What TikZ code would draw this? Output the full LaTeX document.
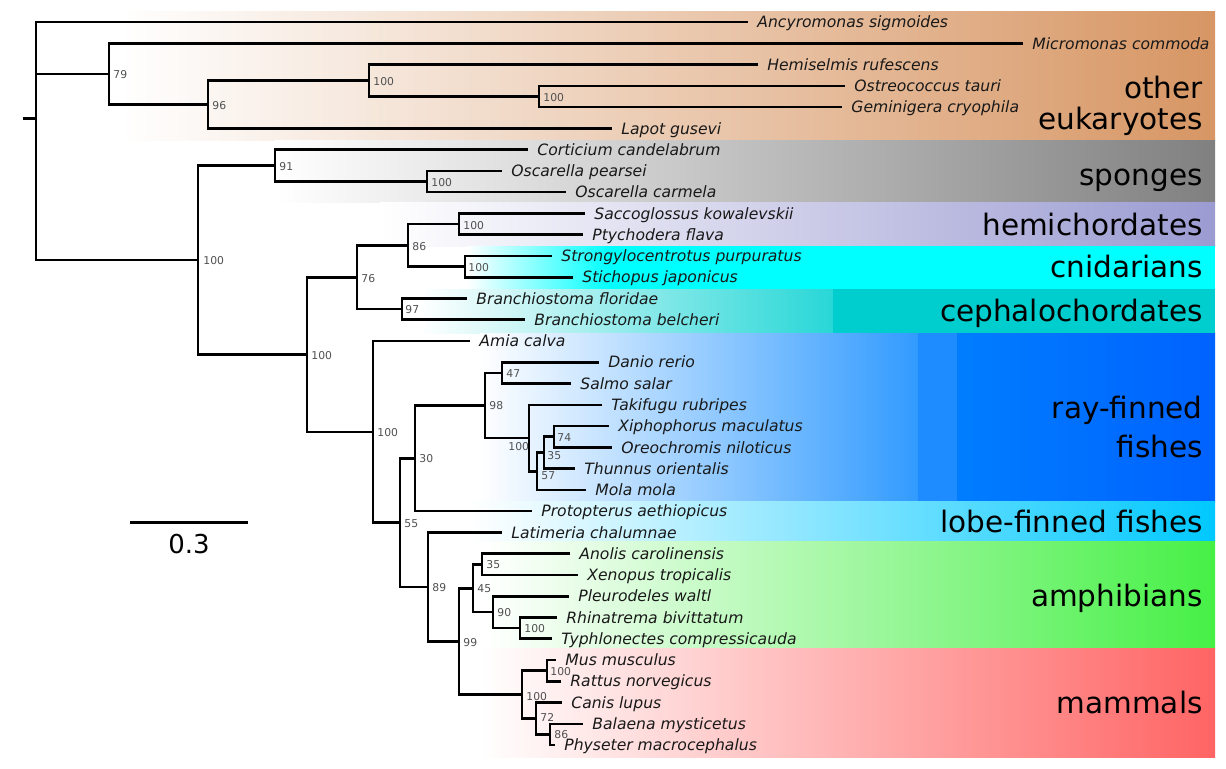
\documentclass[tikz,border=0pt]{standalone}
\usepackage{fontspec}
\setmainfont{DejaVu Sans}
\definecolor{eukc}{RGB}{215,150,100}
\definecolor{spoc}{RGB}{128,128,128}
\definecolor{hemc}{RGB}{155,155,210}
\definecolor{cnic}{RGB}{0,255,255}
\definecolor{cepa}{RGB}{40,215,215}
\definecolor{cepb}{RGB}{0,205,205}
\definecolor{raya}{RGB}{50,155,255}
\definecolor{rayb}{RGB}{30,140,255}
\definecolor{rayc}{RGB}{0,125,255}
\definecolor{rayd}{RGB}{0,98,255}
\definecolor{lobr}{RGB}{0,200,255}
\definecolor{ampc}{RGB}{70,240,70}
\definecolor{mamc}{RGB}{255,100,100}
\definecolor{bsgray}{RGB}{80,80,80}
\definecolor{leafc}{RGB}{25,25,25}
\begin{document}
\begin{tikzpicture}[x=0.5pt,y=-0.5pt]
\tikzset{
 br/.style={line width=1.3pt, line join=miter},
 leaf/.style={font=\fontsize{7.8}{9}\selectfont\itshape, anchor=west, inner xsep=4.5pt, inner ysep=0pt, text height=5.7pt, text depth=0pt, text=leafc},
 bs/.style={font=\fontsize{5.4}{6}\selectfont, text=bsgray, anchor=west, inner sep=0pt, text height=3.9pt, text depth=0pt},
 grp/.style={font=\fontsize{14.75}{16}\selectfont, anchor=base east, inner sep=0pt},
}
\useasboundingbox (0,0) rectangle (1226,768);
% ---------- bands ----------
\shade[left color=white, right color=eukc] (120,11) rectangle (1215,140);
\shade[left color=white, right color=spoc] (275,140) rectangle (1215,202);
\shade[left color=white, right color=hemc] (380,202) rectangle (1215,246);
\shade[left color=white, right color=cnic] (467,246) rectangle (610,289);
\fill[cnic] (609,246) rectangle (1215,289);
\shade[left color=white, right color=cepa] (420,289) rectangle (833,333);
\fill[cepb] (833,289) rectangle (1215,333);
\shade[left color=white, right color=raya] (480,333) rectangle (918,501);
\fill[rayb] (918,333) rectangle (957,501);
\shade[left color=rayc, right color=rayd] (957,333) rectangle (1215,501);
\shade[left color=white, right color=lobr] (470,501) rectangle (1215,541);
\shade[left color=white, right color=ampc] (485,541) rectangle (1215,648);
\shade[left color=white, right color=mamc] (480,648) rectangle (1215,757);
% ---------- group labels ----------
\node[grp] (g1a) at (1203,98) {other};
\node[grp] (g1b) at (1203,129) {eukaryotes};
\node[grp] (g2) at (1203,185) {sponges};
\node[grp] (g3) at (1203,235) {hemichordates};
\node[grp] (g4) at (1203,277) {cnidarians};
\node[grp] (g5) at (1203,321) {cephalochordates};
\node[grp] (g6a) at (1203,418) {ray-finned};
\node[grp] (g6b) at (1203,457) {fishes};
\node[grp] (g7) at (1203,532) {lobe-finned fishes};
\node[grp] (g8) at (1203,606) {amphibians};
\node[grp] (g9) at (1203,713) {mammals};
% ---------- leaves ----------
\node[leaf] (l1) at (748,22) {Ancyromonas sigmoides};
\node[leaf] (l2) at (1023,43.3) {Micromonas commoda};
\node[leaf] (l3) at (758,64.5) {Hemiselmis rufescens};
\node[leaf] (l4) at (845,85.8) {Ostreococcus tauri};
\node[leaf] (l5) at (842,107.1) {Geminigera cryophila};
\node[leaf] (l6) at (612,128.3) {Lapot gusevi};
\node[leaf] (l7) at (528,149.6) {Corticium candelabrum};
\node[leaf] (l8) at (502,170.9) {Oscarella pearsei};
\node[leaf] (l9) at (566,192.1) {Oscarella carmela};
\node[leaf] (l10) at (585,213.4) {Saccoglossus kowalevskii};
\node[leaf] (l11) at (583,234.7) {Ptychodera flava};
\node[leaf] (l12) at (552,255.9) {Strongylocentrotus purpuratus};
\node[leaf] (l13) at (573,277.2) {Stichopus japonicus};
\node[leaf] (l14) at (467,298.5) {Branchiostoma floridae};
\node[leaf] (l15) at (525,319.7) {Branchiostoma belcheri};
\node[leaf] (l16) at (470,341) {Amia calva};
\node[leaf] (l17) at (599,362.2) {Danio rerio};
\node[leaf] (l18) at (571,383.5) {Salmo salar};
\node[leaf] (l19) at (602,404.8) {Takifugu rubripes};
\node[leaf] (l20) at (609,426.0) {Xiphophorus maculatus};
\node[leaf] (l21) at (612,447.3) {Oreochromis niloticus};
\node[leaf] (l22) at (575,468.6) {Thunnus orientalis};
\node[leaf] (l23) at (586,489.8) {Mola mola};
\node[leaf] (l24) at (532,511.1) {Protopterus aethiopicus};
\node[leaf] (l25) at (502,532.4) {Latimeria chalumnae};
\node[leaf] (l26) at (570,553.6) {Anolis carolinensis};
\node[leaf] (l27) at (578,574.9) {Xenopus tropicalis};
\node[leaf] (l28) at (569,596.2) {Pleurodeles waltl};
\node[leaf] (l29) at (557,617.4) {Rhinatrema bivittatum};
\node[leaf] (l30) at (552,638.7) {Typhlonectes compressicauda};
\node[leaf] (l31) at (556,660.0) {Mus musculus};
\node[leaf] (l32) at (561,681.2) {Rattus norvegicus};
\node[leaf] (l33) at (562,702.5) {Canis lupus};
\node[leaf] (l34) at (583,723.8) {Balaena mysticetus};
\node[leaf] (l35) at (555,745) {Physeter macrocephalus};
% ---------- internal nodes ----------
\coordinate (stub) at (23,118.6);
\coordinate (root) at (36,118.6);
\coordinate (n79) at (109,73.8);
\coordinate (n96) at (208,104.4);
\coordinate (nH) at (369,80.5);
\coordinate (nOG) at (539,96.4);
\coordinate (n100d) at (198,260.1);
\coordinate (n91) at (275,165.6);
\coordinate (nOsc) at (427,181.5);
\coordinate (n100c) at (307,354.5);
\coordinate (n76) at (357,277.2);
\coordinate (n86) at (408,245.3);
\coordinate (nHemi) at (459,224.0);
\coordinate (nCnid) at (465,266.6);
\coordinate (n97) at (402,309.1);
\coordinate (n100b) at (373,431.8);
\coordinate (n55) at (400,522.6);
\coordinate (n30) at (415,458.3);
\coordinate (n98) at (485,405.4);
\coordinate (n47) at (502,372.9);
\coordinate (n100f) at (529,438.0);
\coordinate (n57) at (537,471.2);
\coordinate (n35f) at (544,452.6);
\coordinate (n74) at (554,436.7);
\coordinate (n89) at (428,586.9);
\coordinate (n99) at (459,641.4);
\coordinate (n45) at (473,588.2);
\coordinate (n35a) at (482,564.3);
\coordinate (n90) at (493,612.1);
\coordinate (n100a) at (520,628.1);
\coordinate (n100m) at (522,694.5);
\coordinate (nMR) at (547,670.6);
\coordinate (n72) at (536,718.4);
\coordinate (n86m) at (550,734.4);
% ---------- branches ----------
\draw[br] (stub) -- (root);
\foreach \pa/\ch in {root/l1.west, root/n79, root/n100d,
  n79/l2.west, n79/n96, n96/nH, n96/l6.west, nH/l3.west, nH/nOG,
  nOG/l4.west, nOG/l5.west,
  n100d/n91, n100d/n100c, n91/l7.west, n91/nOsc, nOsc/l8.west, nOsc/l9.west,
  n100c/n76, n100c/n100b, n76/n86, n76/n97, n86/nHemi, n86/nCnid,
  nHemi/l10.west, nHemi/l11.west, nCnid/l12.west, nCnid/l13.west,
  n97/l14.west, n97/l15.west,
  n100b/l16.west, n100b/n55, n55/n30, n55/n89, n30/n98, n30/l24.west,
  n98/n47, n98/n100f, n47/l17.west, n47/l18.west,
  n100f/l19.west, n100f/n57, n57/n35f, n57/l23.west, n35f/n74, n35f/l22.west,
  n74/l20.west, n74/l21.west,
  n89/l25.west, n89/n99, n99/n45, n99/n100m, n45/n35a, n45/n90,
  n35a/l26.west, n35a/l27.west, n90/l28.west, n90/n100a,
  n100a/l29.west, n100a/l30.west,
  n100m/nMR, n100m/n72, nMR/l31.west, nMR/l32.west,
  n72/l33.west, n72/n86m, n86m/l34.west, n86m/l35.west}
  \draw[br] (\pa) |- (\ch);
% ---------- support values ----------
\node[bs] (b79) at (113,75) {79};
\node[bs] (b96) at (212,106) {96};
\node[bs] (bH) at (373,82) {100};
\node[bs] (bOG) at (543,98) {100};
\node[bs] (b91) at (279,167) {91};
\node[bs] (bOsc) at (431,183) {100};
\node[bs] (b100d) at (203,261) {100};
\node[bs] (b86) at (412,247) {86};
\node[bs] (bHemi) at (463,226) {100};
\node[bs] (bCnid) at (468,268) {100};
\node[bs] (b76) at (361,279) {76};
\node[bs] (b97) at (405,310) {97};
\node[bs] (b100c) at (311,356) {100};
\node[bs] (b100b) at (377,433) {100};
\node[bs] (b47) at (506,374) {47};
\node[bs] (b98) at (489,406) {98};
\node[bs] (b100f) at (508,447) {100};
\node[bs] (b74) at (557,438) {74};
\node[bs] (b35f) at (547,456) {35};
\node[bs] (b57) at (541,476) {57};
\node[bs] (b30) at (419,459) {30};
\node[bs] (b55) at (404,524) {55};
\node[bs] (b89) at (432,588) {89};
\node[bs] (b99) at (463,643) {99};
\node[bs] (b45) at (477,589) {45};
\node[bs] (b35a) at (486,565) {35};
\node[bs] (b90) at (497,613) {90};
\node[bs] (b100a) at (524,629) {100};
\node[bs] (bMR) at (550,672) {100};
\node[bs] (b100m) at (526,697) {100};
\node[bs] (b72) at (540,718) {72};
\node[bs] (b86m) at (554,735) {86};
% ---------- scale bar ----------
\coordinate (sbL) at (130,522);
\coordinate (sbR) at (248,522);
\draw[line width=1.5pt] (sbL) -- (sbR);
\node[font=\fontsize{13}{15}\selectfont, anchor=base, inner sep=0pt] (sbt) at (189,553) {0.3};
\end{tikzpicture}
\end{document}
